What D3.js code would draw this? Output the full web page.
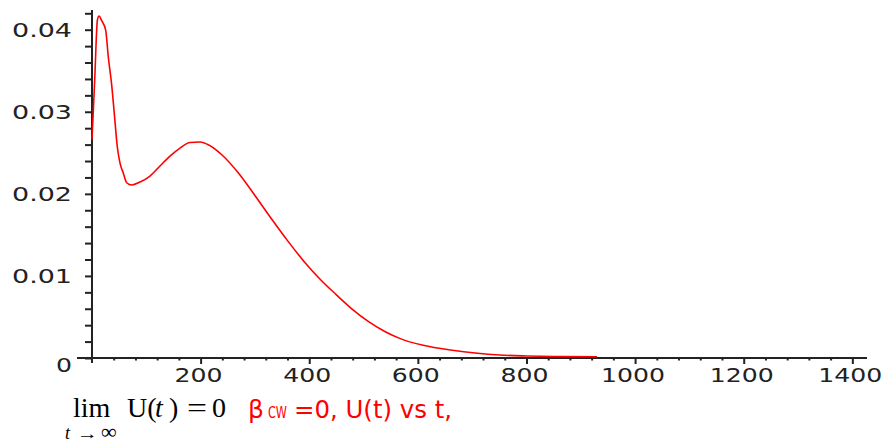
<!DOCTYPE html>
<html>
<head>
<meta charset="utf-8">
<script src="https://cdn.jsdelivr.net/npm/d3@7"></script>
<style>
  html, body { margin: 0; padding: 0; background: #fff; }
  svg { display: block; }
</style>
</head>
<body>
<div id="chart"></div>
<script>
// U(t) (t, value)
const tValues = [0, 5, 10, 13, 17.9, 25.2, 30, 36.3, 41, 46.6, 51.6, 57.6, 63.9, 73, 88.4, 106.8,
  125.2, 143.6, 162.1, 180.5, 198.9, 215, 240, 270, 300, 330, 360, 390, 420, 450,
  480, 510, 540, 570, 610, 660, 710, 750, 800, 850, 930];
const uValues = [0.0266, 0.0339, 0.0412, 0.04166, 0.0411, 0.03995, 0.0367, 0.03325, 0.02984,
  0.02574, 0.02375, 0.02253, 0.02135, 0.02107, 0.02144, 0.02217, 0.02339, 0.0246, 0.02558,
  0.02625, 0.02631, 0.02595, 0.0247, 0.0225, 0.0198, 0.0170, 0.0143, 0.0118,
  0.0096, 0.0077, 0.0059, 0.0044, 0.0032, 0.0023, 0.00155, 0.00097, 0.00057, 0.00037,
  0.00025, 0.00018, 0.00015];
const xTickLabels = [200, 400, 600, 800, 1000, 1200, 1400];
const yTickLabels = ["0", "0.01", "0.02", "0.03", "0.04"];

const width = 886, height = 443;

const svg = d3.select("#chart").append("svg")
    .attr("width", width)
    .attr("height", height);

// axes cross at (0,0); x axis sticks out a bit left of the y axis
const x = d3.scaleLinear().domain([-27.6, 1427]).range([77, 867]);
const y = d3.scaleLinear().domain([0, 0.0424]).range([358, 10]);

const axisColor = "#222";

// y axis: ticks every 0.002, labels every 0.01
const yAxis = d3.axisLeft(y)
    .tickValues(d3.range(0, 0.0421, 0.002))
    .tickSize(7)
    .tickFormat("");

svg.append("g")
    .attr("transform", `translate(${x(0)},0)`)
    .call(yAxis)
    .call(g => g.select(".domain").remove())
    .call(g => g.selectAll(".tick line").attr("stroke", axisColor).attr("stroke-width", 2));

svg.append("line")
    .attr("x1", x(0)).attr("x2", x(0))
    .attr("y1", y(0) + 5).attr("y2", y.range()[1])
    .attr("stroke", axisColor).attr("stroke-width", 2);

// x axis: minor ticks every 40, major every 200
const xAxis = d3.axisBottom(x)
    .tickValues(d3.range(40, 1401, 40))
    .tickSize(2)
    .tickFormat("");

svg.append("g")
    .attr("transform", `translate(0,${y(0)})`)
    .call(xAxis)
    .call(g => g.select(".domain").remove())
    .call(g => g.selectAll(".tick line")
        .attr("stroke", axisColor)
        .attr("stroke-width", 2)
        .attr("y2", d => d % 200 === 0 ? 6 : 2.5));

svg.append("line")
    .attr("x1", x.range()[0]).attr("x2", x.range()[1])
    .attr("y1", y(0)).attr("y2", y(0))
    .attr("stroke", axisColor).attr("stroke-width", 2);

// tick labels, Maple draws them wide
const labelFont = "'DejaVu Sans', sans-serif";
const labelWidth = s => s.replace(".", "").length * 16 + (s.includes(".") ? 12 : 0);

svg.append("g")
  .selectAll("text")
  .data(xTickLabels)
  .join("text")
    .attr("x", d => x(d) - 2)
    .attr("y", 382)
    .attr("text-anchor", "middle")
    .attr("font-family", labelFont)
    .attr("font-size", 19)
    .attr("fill", axisColor)
    .attr("textLength", d => labelWidth(String(d)))
    .attr("lengthAdjust", "spacingAndGlyphs")
    .text(d => d);

svg.append("g")
  .selectAll("text")
  .data(yTickLabels)
  .join("text")
    .attr("x", 72)
    .attr("y", d => y(+d) + (+d === 0 ? 14 : 7.5))
    .attr("text-anchor", "end")
    .attr("font-family", labelFont)
    .attr("font-size", 19)
    .attr("fill", axisColor)
    .attr("textLength", d => labelWidth(d))
    .attr("lengthAdjust", "spacingAndGlyphs")
    .text(d => d);

// the curve
const line = d3.line()
    .x((d, i) => x(tValues[i]))
    .y(d => y(d))
    .curve(d3.curveMonotoneX);

svg.append("path")
    .datum(uValues)
    .attr("fill", "none")
    .attr("stroke", "#ff0000")
    .attr("stroke-width", 1.6)
    .attr("d", line);

// caption: lim U(t) = 0
const serif = "'Liberation Serif', 'Times New Roman', serif";
const cap = svg.append("g").attr("font-family", serif).attr("fill", "#000");
cap.append("text").attr("x", 73).attr("y", 417).attr("font-size", 28).text("lim");
cap.append("text").attr("x", 127).attr("y", 417).attr("font-size", 28).text("U(");
cap.append("text").attr("x", 155).attr("y", 417).attr("font-size", 28).attr("font-style", "italic").text("t");
cap.append("text").attr("x", 169).attr("y", 417).attr("font-size", 28).text(")");
cap.append("text").attr("x", 187).attr("y", 417).attr("font-size", 28)
    .attr("textLength", 20).attr("lengthAdjust", "spacingAndGlyphs").text("=");
cap.append("text").attr("x", 212).attr("y", 417).attr("font-size", 28).text("0");
cap.append("text").attr("x", 65).attr("y", 439).attr("font-size", 18).attr("font-style", "italic").text("t");
cap.append("text").attr("x", 77).attr("y", 439).attr("font-size", 16)
    .attr("textLength", 21).attr("lengthAdjust", "spacingAndGlyphs").text("\u2192");
cap.append("text").attr("x", 101).attr("y", 439).attr("font-size", 22).text("\u221e");

// red note
const note = svg.append("g").attr("font-family", "'DejaVu Sans', Verdana, sans-serif").attr("fill", "#ff0000");
note.append("text").attr("x", 248).attr("y", 418).attr("font-size", 25).text("\u03b2");
note.append("text").attr("x", 268).attr("y", 418).attr("font-size", 16)
    .attr("textLength", 19).attr("lengthAdjust", "spacingAndGlyphs").text("CW");
note.append("text").attr("x", 294).attr("y", 418).attr("font-size", 24)
    .attr("textLength", 158).attr("lengthAdjust", "spacingAndGlyphs").text("=0, U(t) vs t,");
</script>
</body>
</html>
